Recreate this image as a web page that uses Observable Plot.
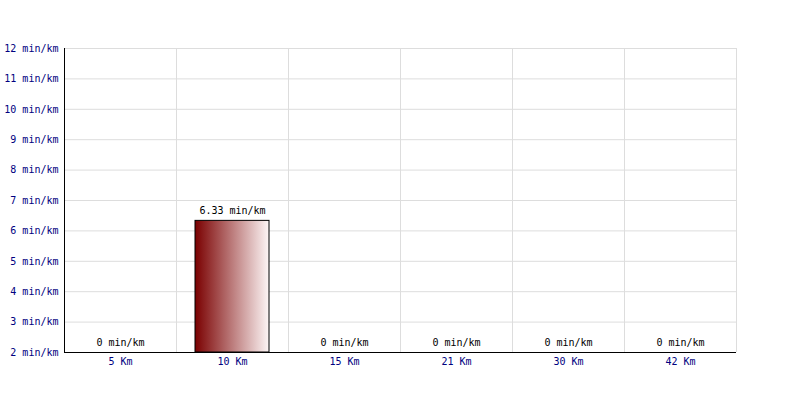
<!DOCTYPE html>
<html>
<head>
<meta charset="utf-8">
<script src="https://cdn.jsdelivr.net/npm/d3@7"></script>
<script src="https://cdn.jsdelivr.net/npm/@observablehq/plot@0.6"></script>
<style>
  html, body { margin: 0; padding: 0; background: #fff; }
  g[aria-label^="x-axis"] text, g[aria-label^="y-axis"] text { fill: #000080; }
</style>
</head>
<body>
<div id="chart"></div>
<script>
const categories = ["5 Km", "10 Km", "15 Km", "21 Km", "30 Km", "42 Km"];
const paces = [0, 6.33, 0, 0, 0, 0];
const yTicks = [2, 3, 4, 5, 6, 7, 8, 9, 10, 11, 12];
const unit = "min/km";

const data = categories.map((c, i) => ({ cat: c, value: paces[i] }));
const yMin = yTicks[0];

const defs = () => {
  const svgNS = "http://www.w3.org/2000/svg";
  const d = document.createElementNS(svgNS, "defs");
  d.innerHTML = `<linearGradient id="barGrad" x1="0" x2="1" y1="0" y2="0">
    <stop offset="0%" stop-color="#7a0000"/>
    <stop offset="100%" stop-color="#fdf6f6"/>
  </linearGradient>`;
  return d;
};

const chart = Plot.plot({
  width: 800,
  height: 400,
  marginLeft: 64,
  marginRight: 64,
  marginTop: 48,
  marginBottom: 48,
  style: { fontFamily: "DejaVu Sans Mono", fontSize: "10px", background: "#fff", color: "black" },
  x: { domain: categories, padding: 0, label: null, tickSize: 0, tickPadding: 5 },
  y: { domain: [yTicks[0], yTicks[yTicks.length - 1]], ticks: yTicks, tickFormat: d => `${d} ${unit}`, label: null, tickSize: 0, tickPadding: 6 },
  marks: [
    defs,
    Plot.ruleY(yTicks, { stroke: "#dddddd" }),
    Plot.ruleX(categories, { dx: 56, stroke: "#dddddd" }),
    Plot.barY(data.filter(d => d.value > yMin), {
      x: "cat", y1: () => yMin, y2: "value",
      fill: "url(#barGrad)", stroke: "black", strokeWidth: 1,
      insetLeft: 19, insetRight: 19
    }),
    Plot.text(data, {
      x: "cat", y: d => Math.max(d.value, yMin),
      text: d => `${d.value} ${unit}`, dy: -10, fill: "black"
    }),
    Plot.ruleX(categories.slice(0, 1), { dx: -56, stroke: "black" }),
    Plot.ruleY([yMin], { stroke: "black" })
  ]
});
document.getElementById("chart").appendChild(chart);
</script>
</body>
</html>
